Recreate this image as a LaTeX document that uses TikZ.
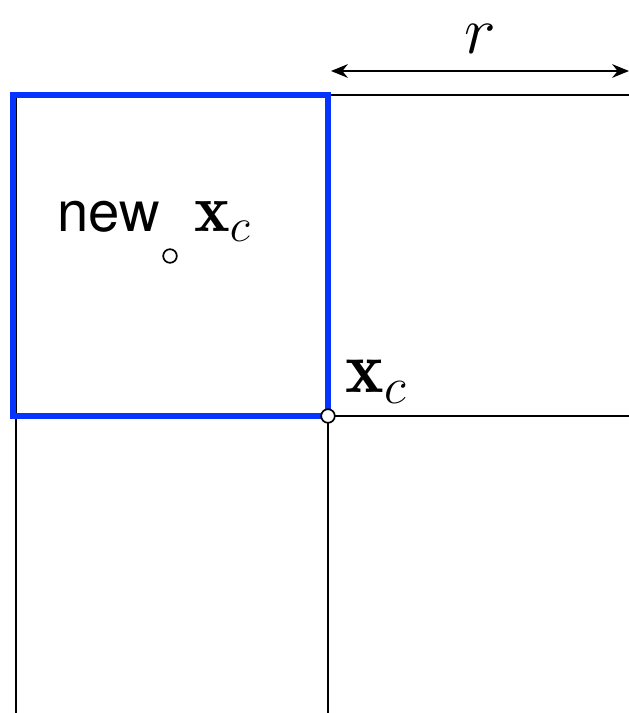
\RequirePackage{fix-cm}
\documentclass[tikz,border=0pt]{standalone}
\usepackage{amsmath}
\usepackage{fontspec}
\newfontfamily\labelsf{TeX Gyre Heros}
\usepackage{tikz}
\usetikzlibrary{arrows.meta,positioning}

\tikzset{
  gridline/.style={line width=1.4pt,black},
  cellbox/.style={line width=3.6pt,draw={rgb,255:red,5;green,51;blue,255}},
  centre/.style={circle,draw,fill=white,line width=1.2pt,minimum size=0.34cm,inner sep=0pt},
  biglabel/.style={inner sep=0pt,font=\fontsize{48}{56}\selectfont}
}

\begin{document}
\begin{tikzpicture}[>={Stealth[length=0.42cm,width=0.34cm]}]
  \useasboundingbox (0,0) rectangle (15.725,17.825);
  % grid of cells
  \draw[gridline] (0.4,0) -- (0.4,15.45);
  \draw[gridline] (8.2,0) -- (8.2,15.45) -- (15.725,15.45);
  \draw[gridline] (8.2,7.425) -- (15.725,7.425);
  % the new cell
  \draw[cellbox] (0.325,7.425) rectangle (8.2,15.45);
  % width of a cell
  \coordinate (rleft) at (8.275,16.05);
  \coordinate (rright) at (15.725,16.05);
  \draw[<->,line width=1.4pt] (rleft) -- (rright);
  \node[biglabel] (rlbl) at (12.0,16.85) {$r$};
  % centres
  \node[centre] (xc) at (8.2,7.425) {};
  \node[biglabel,font=\fontsize{52}{60}\selectfont] (xclbl) at (9.4,8.27) {$\mathbf{x}_c$};
  \node[centre] (newxc) at (4.25,11.425) {};
  \node[biglabel] (newlbl) at (3.85,12.3)
    {{\fontsize{40}{48}\labelsf new}\hspace{0.85cm}$\mathbf{x}_c$};
\end{tikzpicture}
\end{document}
